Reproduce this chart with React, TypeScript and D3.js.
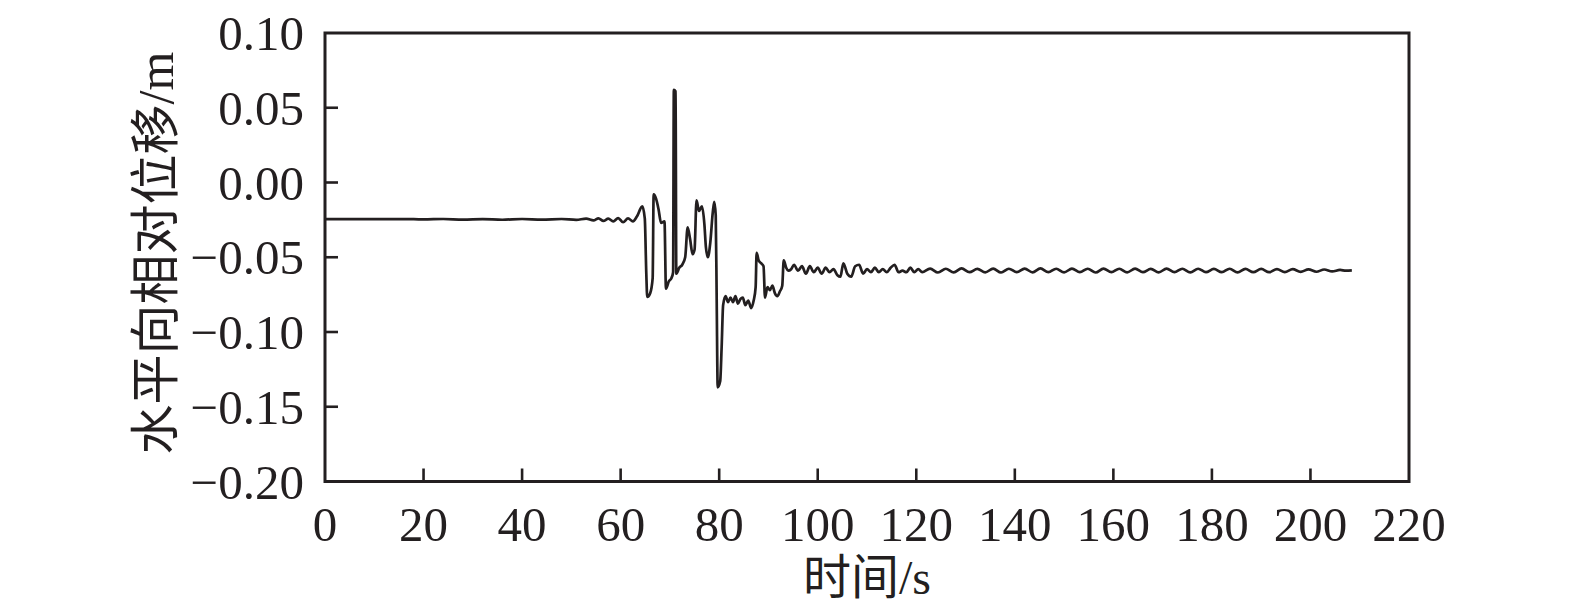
import { useEffect, useRef } from 'react';
import * as d3 from 'd3';

// quiet stretch before the event
const calmTimes = [0, 18, 20, 24, 28, 32, 36, 40, 44, 48, 51, 53, 54.5, 55.5, 56.5, 57.5, 58.5, 59.5, 60.5, 61.5, 62.5, 63.3];
const calmDisp = [-0.0245, -0.0245, -0.0247, -0.0244, -0.0248, -0.0245, -0.0249, -0.0244, -0.0248, -0.0244, -0.025, -0.0242, -0.0254, -0.024, -0.0257, -0.0242, -0.026, -0.0238, -0.0266, -0.024, -0.026, -0.0228];

// main event 64 - 95 s
const eventTimes = [
  64.4, 64.9, 65.2, 65.4, 66.0, 66.5, 66.7, 67.2, 67.7, 68.2, 68.9, 69.2, 69.8, 70.3, 70.65, 70.8, 71.15, 71.3,
  71.9, 72.5, 73.1, 73.6, 74.1, 74.6, 75.0, 75.4, 75.9, 76.5, 77.0, 77.3, 77.7, 78.2, 78.7, 79.0, 79.3, 79.5,
  79.7, 80.2, 80.5, 80.8, 81.3, 81.8, 82.3, 82.8, 83.3, 83.8, 84.3, 84.8, 85.3, 85.9, 86.5, 87.0, 87.4, 87.6,
  88.0, 88.5, 89.0, 89.3, 89.8, 90.3, 90.8, 91.3, 91.8, 92.3, 92.8, 93.1, 93.6, 94.0, 94.6, 95.2,
];
const eventDisp = [
  -0.016, -0.024, -0.06, -0.0765, -0.074, -0.064, -0.008, -0.011, -0.018, -0.027, -0.026, -0.071, -0.066, -0.064, -0.06, 0.062, 0.061, -0.061,
  -0.057, -0.055, -0.05, -0.03, -0.038, -0.048, -0.045, -0.012, -0.019, -0.016, -0.028, -0.043, -0.05, -0.04, -0.02, -0.013, -0.022, -0.08,
  -0.137, -0.133, -0.11, -0.082, -0.076, -0.08, -0.077, -0.08, -0.076, -0.081, -0.078, -0.077, -0.082, -0.079, -0.084, -0.079, -0.07, -0.047,
  -0.052, -0.054, -0.056, -0.077, -0.07, -0.072, -0.069, -0.074, -0.076, -0.073, -0.069, -0.052, -0.057, -0.059, -0.058, -0.055,
];

// settling 96 - 120 s
const settleTimes = [96.0, 96.8, 97.6, 98.4, 99.2, 100.0, 100.8, 101.6, 102.4, 103.2, 104.0, 104.6, 105.2, 106.0, 106.8, 107.6, 108.4, 109.2, 110.0, 110.8, 111.6, 112.4, 113.2, 114.0, 114.8, 115.6, 116.4, 117.2, 118.0, 118.8, 119.6, 120.4];
const settleDisp = [-0.059, -0.056, -0.061, -0.056, -0.06, -0.057, -0.061, -0.057, -0.06, -0.058, -0.062, -0.063, -0.054, -0.061, -0.063, -0.056, -0.055, -0.061, -0.058, -0.06, -0.057, -0.06, -0.058, -0.06, -0.057, -0.055, -0.06, -0.059, -0.06, -0.057, -0.06, -0.058];

// steady small oscillation to the end
const tailTimes = [
  121.2, 122.8, 124.4, 126.0, 127.6, 129.2, 130.8, 132.4, 134.0, 135.6, 137.2, 138.8, 140.4, 142.0, 143.6, 145.2, 146.8, 148.4, 150.0,
  151.6, 153.2, 154.8, 156.4, 158.0, 159.6, 161.2, 162.8, 164.4, 166.0, 167.6, 169.2, 170.8, 172.4, 174.0, 175.6, 177.2, 178.8, 180.4,
  182.0, 183.6, 185.2, 186.8, 188.4, 190.0, 191.6, 193.2, 194.8, 196.4, 198.0, 199.6, 201.2, 202.8, 204.4, 206.0, 207.2, 208.4,
];
const tailDisp = [
  -0.06, -0.0576, -0.0602, -0.0577, -0.0601, -0.0575, -0.06, -0.0578, -0.0601, -0.0576,
  -0.0602, -0.0577, -0.06, -0.0576, -0.0601, -0.0575, -0.06, -0.0577, -0.0601, -0.0576,
  -0.06, -0.0577, -0.0602, -0.0576, -0.06, -0.0577, -0.0601, -0.0576, -0.06, -0.0578,
  -0.0601, -0.0576, -0.06, -0.0577, -0.0601, -0.0577, -0.06, -0.0578, -0.06, -0.0577,
  -0.0601, -0.0578, -0.06, -0.0578, -0.06, -0.0579, -0.0599, -0.058, -0.0598, -0.0581,
  -0.0597, -0.0582, -0.0595, -0.0585, -0.059, -0.0588,
];

const xTicks = [0, 20, 40, 60, 80, 100, 120, 140, 160, 180, 200, 220];
const yTicks = [0.1, 0.05, 0, -0.05, -0.1, -0.15, -0.2];

const xTitle = '时间/s';
const yTitle = '水平向相对位移/m';

const W = 1575;
const H = 616;
const INK = '#231f20';
const FONT = "'Liberation Serif', 'Times New Roman', 'Noto Sans CJK SC', serif";

export default function App() {
  const svgRef = useRef<SVGSVGElement>(null);

  useEffect(() => {
    if (!svgRef.current) return;
    const svg = d3.select(svgRef.current);
    svg.selectAll('*').remove();

    const margin = { top: 33, right: W - 1409, bottom: H - 481.5, left: 325 };
    const innerWidth = W - margin.left - margin.right;
    const innerHeight = H - margin.top - margin.bottom;

    const times = [...calmTimes, ...eventTimes, ...settleTimes, ...tailTimes];
    const disp = [...calmDisp, ...eventDisp, ...settleDisp, ...tailDisp];
    const data = times.map((t, i) => ({ t, v: disp[i] }));

    const xScale = d3.scaleLinear().domain([0, 220]).range([0, innerWidth]);
    const yScale = d3.scaleLinear().domain([-0.2, 0.1]).range([innerHeight, 0]);

    const g = svg.append('g').attr('transform', `translate(${margin.left},${margin.top})`);

    // series
    const line = d3
      .line<{ t: number; v: number }>()
      .x((d) => xScale(d.t))
      .y((d) => yScale(d.v))
      .curve(d3.curveMonotoneX);

    g.append('path')
      .datum(data)
      .attr('fill', 'none')
      .attr('stroke', INK)
      .attr('stroke-width', 2.7)
      .attr('stroke-linejoin', 'round')
      .attr('d', line);

    // ticks pointing inward
    g.selectAll('.xtick')
      .data(xTicks.slice(1, -1))
      .enter()
      .append('line')
      .attr('x1', (d) => xScale(d))
      .attr('x2', (d) => xScale(d))
      .attr('y1', innerHeight)
      .attr('y2', innerHeight - 13)
      .attr('stroke', INK)
      .attr('stroke-width', 2.6);

    g.selectAll('.ytick')
      .data(yTicks.slice(1, -1))
      .enter()
      .append('line')
      .attr('x1', 0)
      .attr('x2', 13)
      .attr('y1', (d) => yScale(d))
      .attr('y2', (d) => yScale(d))
      .attr('stroke', INK)
      .attr('stroke-width', 2.6);

    // frame
    g.append('rect')
      .attr('x', 0)
      .attr('y', 0)
      .attr('width', innerWidth)
      .attr('height', innerHeight)
      .attr('fill', 'none')
      .attr('stroke', INK)
      .attr('stroke-width', 3);

    // tick labels
    g.selectAll('.xlabel')
      .data(xTicks)
      .enter()
      .append('text')
      .attr('x', (d) => xScale(d))
      .attr('y', innerHeight + 59)
      .attr('text-anchor', 'middle')
      .attr('font-family', FONT)
      .attr('font-size', 49)
      .attr('fill', INK)
      .text((d) => String(d));

    const fmt = d3.format('.2f');
    g.selectAll('.ylabel')
      .data(yTicks)
      .enter()
      .append('text')
      .attr('x', -21)
      .attr('y', (d) => yScale(d) + 17)
      .attr('text-anchor', 'end')
      .attr('font-family', FONT)
      .attr('font-size', 49)
      .attr('fill', INK)
      .text((d) => fmt(d));

    // axis titles
    svg.append('text')
      .attr('x', 867)
      .attr('y', 594)
      .attr('text-anchor', 'middle')
      .attr('font-family', FONT)
      .attr('font-size', 48)
      .attr('fill', INK)
      .text(xTitle);

    svg.append('text')
      .attr('transform', 'translate(156,253) rotate(-90)')
      .attr('text-anchor', 'middle')
      .attr('dominant-baseline', 'central')
      .attr('font-family', FONT)
      .attr('font-size', 50)
      .attr('fill', INK)
      .text(yTitle);
  }, []);

  return (
    <div style={{ position: 'absolute', left: 0, top: 0 }}>
      <svg ref={svgRef} width={W} height={H} style={{ display: 'block', background: '#fff' }} />
    </div>
  );
}
